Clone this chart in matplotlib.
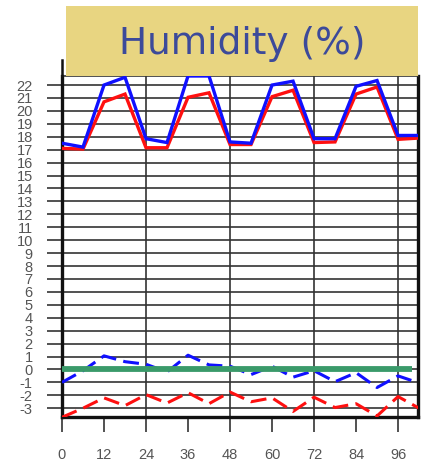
import matplotlib
matplotlib.use("Agg")
import matplotlib.pyplot as plt
from matplotlib.patches import Rectangle
from matplotlib.lines import Line2D

# Forecast hours
hours = [0, 6, 12, 18, 24, 30, 36, 42, 48, 54, 60, 66, 72, 78, 84, 90, 96, 102]

# Upper pair of curves (solid)
blue_solid = [17.5, 17.2, 22.0, 22.6, 17.85, 17.55, 22.7, 22.7, 17.6, 17.5,
              22.0, 22.3, 17.85, 17.85, 21.9, 22.35, 18.1, 18.1]
red_solid = [17.1, 17.05, 20.7, 21.3, 17.15, 17.15, 21.05, 21.4, 17.4, 17.4,
             21.1, 21.6, 17.55, 17.6, 21.3, 21.85, 17.8, 17.9]

# Lower pair of curves (dashed)
blue_dashed = [-1.0, -0.1, 1.05, 0.6, 0.4, -0.2, 1.1, 0.35, 0.25, -0.4,
               0.25, -0.6, -0.1, -0.95, -0.25, -1.4, -0.5, -1.05]
red_dashed = [-3.7, -3.0, -2.2, -2.8, -1.95, -2.6, -1.8, -2.65, -1.75, -2.5,
              -2.2, -3.25, -2.15, -2.95, -2.65, -3.6, -2.1, -3.0]

# Reference level
ref_level = 0.0
ref_span = (0, 100)

yticks = list(range(-3, 23))
xticks = [0, 12, 24, 36, 48, 60, 72, 84, 96]
xgrid = [24, 48, 72, 96]
title = "Humidity (%)"

W, H = 425, 472
fig = plt.figure(figsize=(W / 100, H / 100), dpi=100)
ax = fig.add_axes([62 / W, 1 - 417 / H, 356 / W, 341 / H])
ax.set_xlim(0, 101.7)
ax.set_ylim(-3.68, 22.7)

# grid
for y in yticks:
    ax.axhline(y, color="#333333", lw=1.2, zorder=1)
for x in xgrid:
    ax.axvline(x, color="#333333", lw=1.2, zorder=1)

ax.plot(hours, red_solid, color="#ff1010", lw=2.4, zorder=3, solid_joinstyle="miter")
ax.plot(hours, blue_solid, color="#1010ff", lw=2.4, zorder=4, solid_joinstyle="miter")
ax.plot(hours, red_dashed, color="#ff1010", lw=2.2, dashes=(5.2, 2.4), zorder=3)
ax.plot(hours, blue_dashed, color="#1010ff", lw=2.2, dashes=(5.2, 2.4), zorder=3)
ax.plot(ref_span, [ref_level, ref_level], color="#3a9a6a", lw=4.2,
        solid_capstyle="butt", zorder=5)

for side in ["left", "right", "bottom"]:
    ax.spines[side].set_linewidth(2.4)
    ax.spines[side].set_color("#111111")
ax.spines["top"].set_linewidth(1.2)
ax.spines["top"].set_color("#333333")

lab_font = dict(family="Liberation Sans", size=10.5, color="#555555")
ax.set_yticks(yticks)
ax.set_yticklabels([str(v) for v in yticks], fontdict=lab_font)
ax.set_xticks(xticks)
ax.set_xticklabels([str(v) for v in xticks], fontdict=lab_font)
ax.tick_params(axis="y", direction="out", length=11, width=1.2, color="#333333", pad=10)
ax.tick_params(axis="x", direction="out", length=11, width=1.2, color="#333333", pad=11)

# left frame stub above the plot area
fig.add_artist(Line2D([62 / W, 62 / W], [1 - 76 / H, 1 - 60 / H],
                      color="#111111", lw=1.8, transform=fig.transFigure))

# title banner
fig.add_artist(Rectangle((66 / W, 1 - 76 / H), (418 - 66) / W, 70 / H,
                         facecolor="#e8d581", edgecolor="none",
                         transform=fig.transFigure, zorder=10))
fig.text(242 / W, 1 - 44 / H, title, ha="center", va="center",
         fontsize=27, color="#3c4a9a", family="DejaVu Sans", zorder=11)

fig.savefig("out.png", dpi=100)
